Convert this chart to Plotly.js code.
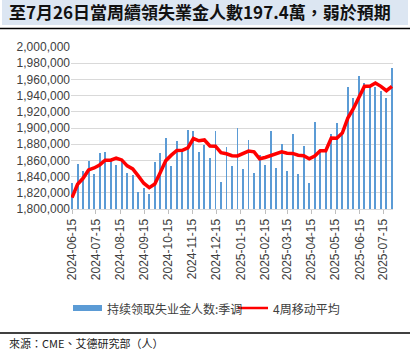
<!DOCTYPE html>
<html>
<head>
<meta charset="utf-8">
<script src="https://cdn.plot.ly/plotly-3.0.1.min.js"></script>
<style>
html,body{margin:0;padding:0;background:#fff;}
#chart{width:410px;height:353px;}
</style>
</head>
<body>
<div id="chart"></div>
<script>
// Weekly dates (week ending)
const weeks = [
  '2024-06-15','2024-06-22','2024-06-29','2024-07-06','2024-07-13','2024-07-20','2024-07-27',
  '2024-08-03','2024-08-10','2024-08-17','2024-08-24','2024-08-31','2024-09-07','2024-09-14',
  '2024-09-21','2024-09-28','2024-10-05','2024-10-12','2024-10-19','2024-10-26','2024-11-02',
  '2024-11-09','2024-11-16','2024-11-23','2024-11-30','2024-12-07','2024-12-14','2024-12-21',
  '2024-12-28','2025-01-04','2025-01-11','2025-01-18','2025-01-25','2025-02-01','2025-02-08',
  '2025-02-15','2025-02-22','2025-03-01','2025-03-08','2025-03-15','2025-03-22','2025-03-29',
  '2025-04-05','2025-04-12','2025-04-19','2025-04-26','2025-05-03','2025-05-10','2025-05-17',
  '2025-05-24','2025-05-31','2025-06-07','2025-06-14','2025-06-21','2025-06-28','2025-07-05',
  '2025-07-12','2025-07-19','2025-07-26'
];
// Continuing claims, seasonally adjusted
const claims = [
  1832000,1855700,1846600,1859400,1843300,1869300,1870500,
  1859400,1854400,1859400,1844500,1842000,1820600,1826400,
  1818600,1858600,1869300,1887800,1852800,1884100,1871800,
  1897700,1896500,1870500,1879200,1863500,1896500,1833400,
  1876800,1852700,1900000,1849600,1885500,1844600,1866900,
  1854500,1896600,1850800,1880500,1847000,1892900,1843400,
  1878000,1832300,1907800,1870000,1873000,1893000,1906500,
  1891500,1951000,1937400,1964000,1955600,1950400,1950600,
  1946000,1936500,1974000
];
// 4-week moving average
const ma4 = [
  1814000,1830500,1837900,1848200,1850700,1854400,1860200,
  1860200,1862700,1860600,1853200,1849500,1840800,1831800,
  1826400,1830900,1845000,1859700,1866500,1872300,1872500,
  1875500,1887000,1884200,1885200,1877800,1877500,1869500,
  1868200,1865800,1865500,1868500,1871500,1870500,1862000,
  1863600,1866100,1867800,1870500,1868800,1868600,1866400,
  1865700,1862000,1865500,1872000,1872000,1887700,1887300,
  1893800,1912300,1923800,1937000,1951400,1951400,1955500,
  1951400,1946000,1951400
];
const tickDates = ['2024-06-15','2024-07-15','2024-08-15','2024-09-15','2024-10-15','2024-11-15',
  '2024-12-15','2025-01-15','2025-02-15','2025-03-15','2025-04-15','2025-05-15','2025-06-15','2025-07-15'];
const titleText = '至7月26日當周續領失業金人數197.4萬，弱於預期';
const legendBar = '持续领取失业金人数:季调';
const legendLine = '4周移动平均';
const sourceText = '來源：CME、艾德研究部（人）';

const W = 410, H = 353;
const mL = 71, mR = 17, mT = 47, mB = 144;
const pw = W - mL - mR, ph = H - mT - mB;
const px = x => (x - mL) / pw;
const py = y => (H - mB - y) / ph;

const cjk = '"Noto Sans CJK TC","Noto Sans CJK SC",sans-serif';

const traces = [
  {
    type: 'bar', x: weeks, y: claims, name: legendBar,
    marker: {color: '#5b9bd5'}, width: 2.4 * 86400000, showlegend: false,
    hovertemplate: '%{x}: %{y:,}<extra></extra>'
  },
  {
    type: 'scatter', mode: 'lines', x: weeks, y: ma4, name: legendLine,
    line: {color: '#ff0000', width: 3.5}, showlegend: false
  }
];

const layout = {
  width: W, height: H,
  margin: {l: mL, r: mR, t: mT, b: mB},
  paper_bgcolor: '#ffffff', plot_bgcolor: '#ffffff',
  font: {family: '"Liberation Sans", Arial, sans-serif', size: 12, color: '#404040'},
  title: {
    text: titleText, xref: 'container', yref: 'container',
    x: 9 / W, xanchor: 'left', y: 1 - 13 / H, yanchor: 'middle',
    font: {family: cjk, size: 17, color: '#111111', weight: 'bold'}
  },
  xaxis: {
    type: 'date', range: ['2024-06-13 16:00', '2025-07-27 08:00'],
    tickvals: tickDates, tickformat: '%Y-%m-%d', tickangle: -90,
    ticks: 'outside', ticklen: 4, tickcolor: '#bfbfbf',
    showline: true, linecolor: '#d9d9d9', linewidth: 1,
    showgrid: false, zeroline: false,
    tickfont: {size: 12, color: '#404040'}
  },
  yaxis: {
    range: [1800000, 2000000], dtick: 20000, tickformat: ',d',
    showgrid: true, gridcolor: '#d9d9d9', gridwidth: 1,
    zeroline: false, showline: false, ticks: '',
    tickfont: {size: 12, color: '#404040'}
  },
  bargap: 0,
  shapes: [
    {type: 'rect', xref: 'paper', yref: 'paper', x0: px(2), x1: px(408), y0: py(25), y1: py(0),
      fillcolor: '#dce6f2', line: {width: 0}, layer: 'below'},
    {type: 'line', xref: 'paper', yref: 'paper', x0: px(0), x1: px(410), y0: py(28.5), y1: py(28.5),
      line: {color: '#000000', width: 1.5}},
    {type: 'rect', xref: 'paper', yref: 'paper', x0: px(73), x1: px(102), y0: py(311), y1: py(305),
      fillcolor: '#5b9bd5', line: {width: 0}},
    {type: 'line', xref: 'paper', yref: 'paper', x0: px(238), x1: px(268), y0: py(308), y1: py(308),
      line: {color: '#ff0000', width: 2.5}},
    {type: 'line', xref: 'paper', yref: 'paper', x0: px(0), x1: px(410), y0: py(333), y1: py(333),
      line: {color: '#000000', width: 1.5}}
  ],
  annotations: [
    {xref: 'paper', yref: 'paper', x: px(105), y: py(308), xanchor: 'left', yanchor: 'middle',
      text: legendBar, showarrow: false, font: {family: cjk, size: 12, color: '#404040'}},
    {xref: 'paper', yref: 'paper', x: px(271), y: py(308), xanchor: 'left', yanchor: 'middle',
      text: legendLine, showarrow: false, font: {family: cjk, size: 12, color: '#404040'}},
    {xref: 'paper', yref: 'paper', x: px(7), y: py(343), xanchor: 'left', yanchor: 'middle',
      text: sourceText, showarrow: false, font: {family: cjk, size: 11, color: '#222222'}}
  ]
};

Plotly.newPlot('chart', traces, layout, {displayModeBar: false, staticPlot: true});
</script>
</body>
</html>
